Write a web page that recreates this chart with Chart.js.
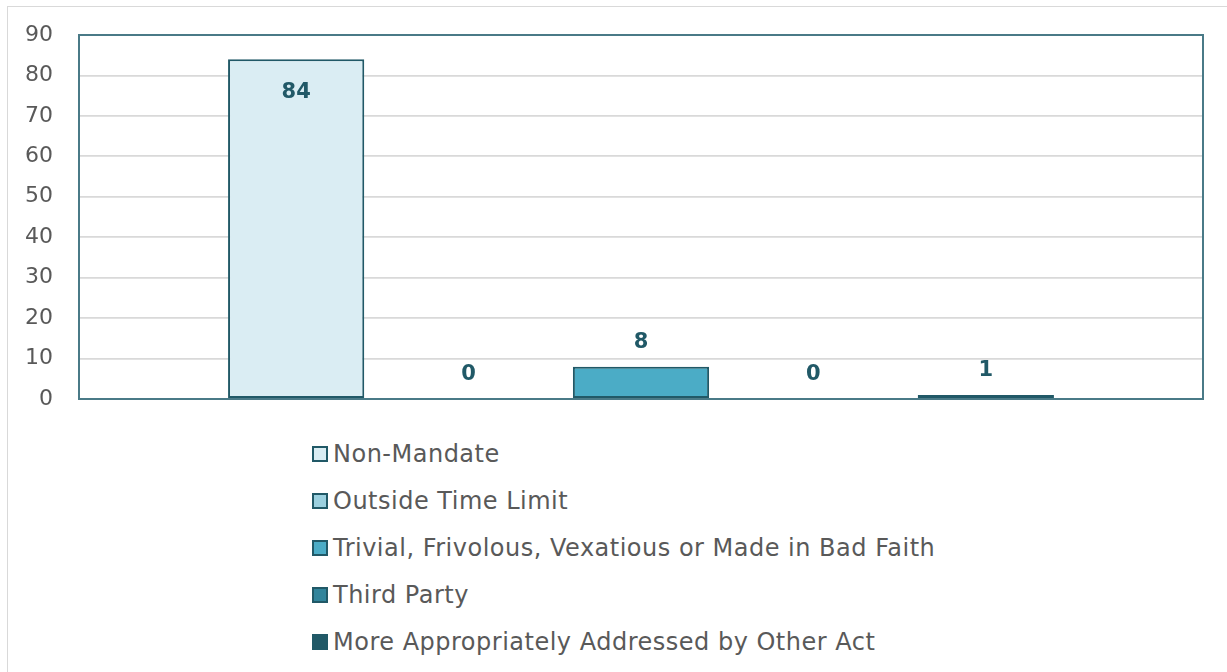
<!DOCTYPE html>
<html>
<head>
<meta charset="utf-8">
<script src="https://cdn.jsdelivr.net/npm/chart.js@4/dist/chart.umd.min.js"></script>
<style>
  html, body { margin: 0; padding: 0; background: #fff; width: 1227px; height: 672px; overflow: hidden; }
  #frame { position: absolute; left: 7px; top: 6px; width: 1300px; height: 800px; border: 1px solid #d9d9d9; box-sizing: border-box; }
  #wrap { position: absolute; left: 0; top: 0; width: 1227px; height: 420px; }
  #legend { position: absolute; left: 312px; top: 430px; font-family: "DejaVu Sans", sans-serif; font-size: 24px; letter-spacing: 0.5px; color: #595959; }
  #legend .item { display: flex; align-items: center; height: 47px; white-space: nowrap; }
  #legend .box { width: 12px; height: 12px; border: 2px solid #215967; margin-right: 5px; flex: none; }
</style>
</head>
<body>
<div id="frame"></div>
<div id="wrap"><canvas id="c"></canvas></div>
<div id="legend"></div>
<script>
const categories = [""];
const seriesNames = [
  "Non-Mandate",
  "Outside Time Limit",
  "Trivial, Frivolous, Vexatious or Made in Bad Faith",
  "Third Party",
  "More Appropriately Addressed by Other Act"
];
const seriesValues = [84, 0, 8, 0, 1];
const seriesColors = ["#DAEDF3", "#9BD0DF", "#4BACC6", "#31849B", "#215967"];
const yTicks = [0, 10, 20, 30, 40, 50, 60, 70, 80, 90];

const borderColor = "#215967";

const datasets = seriesNames.map((name, i) => ({
  label: name,
  data: [seriesValues[i]],
  backgroundColor: seriesColors[i],
  borderColor: borderColor,
  borderWidth: 2,
  borderSkipped: false,
  categoryPercentage: 0.767,
  barPercentage: 0.79
}));

const plotBorder = {
  id: "plotBorder",
  afterDatasetsDraw(chart) {
    const a = chart.chartArea, ctx = chart.ctx;
    ctx.save();
    ctx.strokeStyle = "#4A7A87";
    ctx.lineWidth = 2;
    ctx.strokeRect(a.left, a.top, a.right - a.left, a.bottom - a.top);
    ctx.restore();
  }
};

const valueLabels = {
  id: "valueLabels",
  afterDraw(chart) {
    const ctx = chart.ctx;
    const yMax = chart.scales.y.max;
    ctx.save();
    ctx.font = "bold 21px 'DejaVu Sans'";
    ctx.fillStyle = "#215967";
    ctx.textAlign = "center";
    ctx.textBaseline = "middle";
    chart.data.datasets.forEach((ds, i) => {
      const meta = chart.getDatasetMeta(i);
      meta.data.forEach((el, j) => {
        const v = ds.data[j];
        let y;
        if (v / yMax > 0.85) y = el.y + 33;
        else y = el.y - 24;
        ctx.fillText(String(v), el.x, y);
      });
    });
    ctx.restore();
  }
};

const chart = new Chart(document.getElementById("c"), {
  type: "bar",
  data: { labels: categories, datasets },
  options: {
    responsive: true,
    maintainAspectRatio: false,
    animation: false,
    layout: { padding: { left: 0, top: 35, right: 24, bottom: 21 } },
    plugins: {
      legend: { display: false },
      tooltip: { enabled: false }
    },
    scales: {
      x: { display: false },
      y: {
        min: 0, max: 90,
        afterFit(s) { s.width = 79; s.paddingTop = 0; s.paddingBottom = 0; },
        afterBuildTicks(s) { s.ticks = yTicks.map(v => ({ value: v })); },
        border: { display: false },
        grid: { color: "#D9D9D9", lineWidth: 1.8, drawTicks: false },
        ticks: {
          padding: 26,
          color: "#595959",
          font: { family: "'DejaVu Sans', sans-serif", size: 22 }
        }
      }
    }
  },
  plugins: [plotBorder, valueLabels]
});

const legendEl = document.getElementById("legend");
seriesNames.forEach((name, i) => {
  const item = document.createElement("div");
  item.className = "item";
  const box = document.createElement("span");
  box.className = "box";
  box.style.background = seriesColors[i];
  const txt = document.createElement("span");
  txt.textContent = name;
  item.appendChild(box);
  item.appendChild(txt);
  legendEl.appendChild(item);
});
</script>
</body>
</html>
